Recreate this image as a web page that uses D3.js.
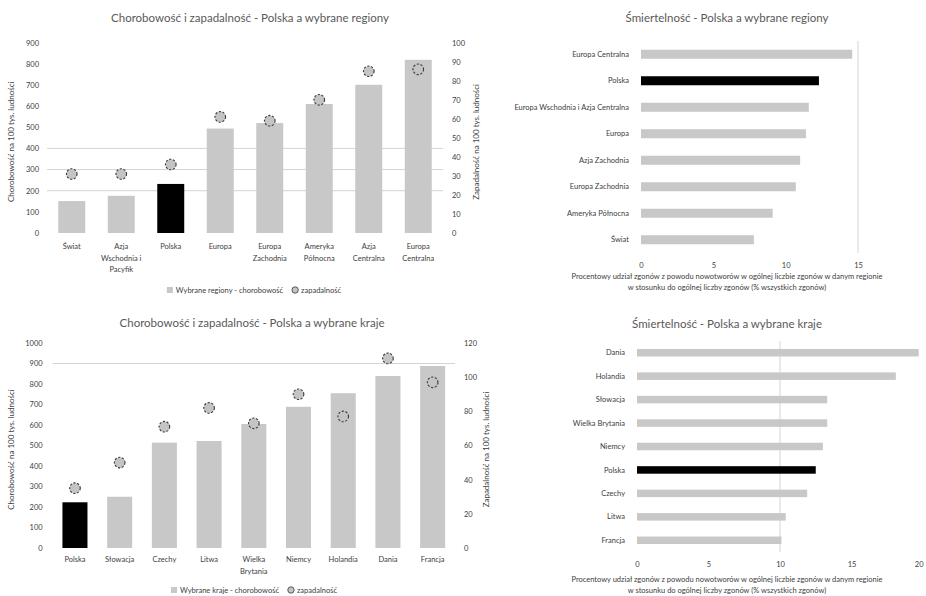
<!DOCTYPE html>
<html lang="pl">
<head>
<meta charset="utf-8">
<script src="https://cdn.jsdelivr.net/npm/d3@7"></script>
<style>
  html, body { margin: 0; padding: 0; background: #fff; }
  svg { display: block; font-family: Lato, "Open Sans", sans-serif; }
</style>
</head>
<body>
<svg id="chart" width="926" height="596"></svg>
<script>
// ---- Regiony: chorobowość (lewa oś) i zapadalność (prawa oś) ----
const regionCats = ["Świat", "Azja\nWschodnia i\nPacyfik", "Polska", "Europa", "Europa\nZachodnia", "Ameryka\nPółnocna", "Azja\nCentralna", "Europa\nCentralna"];
const regionPrevalence = [151, 176, 232, 494, 520, 610, 701, 819];
const regionIncidence = [31, 31, 36, 61, 59, 70, 85, 86];
const regionPrevTicks = [0, 100, 200, 300, 400, 500, 600, 700, 800, 900];
const regionIncTicks = [0, 10, 20, 30, 40, 50, 60, 70, 80, 90, 100];
const regionPrevGrid = [200, 300, 400];

// ---- Regiony: śmiertelność ----
const regionMortCats = ["Europa Centralna", "Polska", "Europa Wschodnia i Azja Centralna", "Europa", "Azja Zachodnia", "Europa Zachodnia", "Ameryka Północna", "Świat"];
const regionMortality = [14.6, 12.3, 11.6, 11.4, 11.0, 10.7, 9.1, 7.8];
const regionMortTicks = [0, 5, 10, 15];
const regionMortGrid = [15];

// ---- Kraje: chorobowość i zapadalność ----
const countryCats = ["Polska", "Słowacja", "Czechy", "Litwa", "Wielka\nBrytania", "Niemcy", "Holandia", "Dania", "Francja"];
const countryPrevalence = [223, 250, 514, 522, 605, 689, 755, 839, 888];
const countryIncidence = [35, 50, 71, 82, 73, 90, 77, 111, 97];
const countryPrevTicks = [0, 100, 200, 300, 400, 500, 600, 700, 800, 900, 1000];
const countryIncTicks = [0, 20, 40, 60, 80, 100, 120];
const countryPrevGrid = [900];

// ---- Kraje: śmiertelność ----
const countryMortCats = ["Dania", "Holandia", "Słowacja", "Wielka Brytania", "Niemcy", "Polska", "Czechy", "Litwa", "Francja"];
const countryMortality = [19.7, 18.1, 13.3, 13.3, 13.0, 12.5, 11.9, 10.4, 10.1];
const countryMortTicks = [0, 5, 10, 15, 20];
const countryMortGrid = [10];

const TEXT = "#404040";
const BAR = "#c8c8c8";
const HIGHLIGHT = "#000000";
const GRID = "#d4d4d4";
const fmt = d3.format("d");
const svg = d3.select("#chart");

function barColor(name) { return name === "Polska" ? HIGHLIGHT : BAR; }

// Column chart with a secondary axis for the circle markers
function comboChart(o) {
  const g = svg.append("g");
  const x = d3.scaleBand().domain(o.cats).range([o.left, o.right])
    .paddingInner(o.pad).paddingOuter(o.pad / 2);
  const yL = d3.scaleLinear().domain([0, d3.max(o.leftTicks)]).range([o.bottom, o.top]);
  const yR = d3.scaleLinear().domain([0, d3.max(o.rightTicks)]).range([o.bottom, o.top]);

  g.append("text").attr("x", o.titleX).attr("y", o.titleY).attr("text-anchor", "middle")
    .attr("font-size", 11.5).attr("fill", "#595959").text(o.title);

  g.selectAll("line.grid").data(o.grid).join("line").attr("class", "grid")
    .attr("x1", o.left).attr("x2", o.right)
    .attr("y1", d => yL(d)).attr("y2", d => yL(d))
    .attr("stroke", GRID).attr("stroke-width", 1);

  const axL = g.append("g").attr("transform", `translate(${o.left},0)`)
    .call(d3.axisLeft(yL).tickValues(o.leftTicks).tickFormat(fmt).tickSize(0).tickPadding(o.leftPad));
  const axR = g.append("g").attr("transform", `translate(${o.right},0)`)
    .call(d3.axisRight(yR).tickValues(o.rightTicks).tickFormat(fmt).tickSize(0).tickPadding(o.rightPad));
  [axL, axR].forEach(a => {
    a.select(".domain").remove();
    a.selectAll("text").attr("font-size", 7.5).attr("fill", TEXT).attr("font-family", "Lato");
  });

  g.selectAll("rect.bar").data(o.cats).join("rect").attr("class", "bar")
    .attr("x", d => x(d)).attr("width", x.bandwidth())
    .attr("y", (d, i) => yL(o.bars[i])).attr("height", (d, i) => yL(0) - yL(o.bars[i]))
    .attr("fill", d => barColor(d));

  g.selectAll("circle.dot").data(o.cats).join("circle").attr("class", "dot")
    .attr("cx", d => x(d) + x.bandwidth() / 2).attr("cy", (d, i) => yR(o.dots[i]))
    .attr("r", 5.3).attr("fill", "#c4c4c4").attr("stroke", "#3a3a3a")
    .attr("stroke-width", 1.1).attr("stroke-dasharray", "2.2,1.6");

  // category labels (may span several lines)
  o.cats.forEach(c => {
    const t = g.append("text").attr("text-anchor", "middle").attr("font-size", 7.5).attr("fill", TEXT);
    c.split("\n").forEach((line, k) => {
      t.append("tspan").attr("x", x(c) + x.bandwidth() / 2).attr("y", o.labelY + k * 11.5).text(line);
    });
  });

  // axis titles
  g.append("text").attr("transform", `translate(${o.ltX},${(o.top + o.bottom) / 2 + 4}) rotate(-90)`)
    .attr("text-anchor", "middle").attr("font-size", 8).attr("fill", TEXT)
    .text("Chorobowość na 100 tys. ludności");
  g.append("text").attr("transform", `translate(${o.rtX},${(o.top + o.bottom) / 2 + 4}) rotate(-90)`)
    .attr("text-anchor", "middle").attr("font-size", 8).attr("fill", TEXT)
    .text("Zapadalność na 100 tys. ludności");

  // legend
  const lg = g.append("g");
  const t1 = lg.append("text").attr("x", 9).attr("y", 0).attr("font-size", 7.5).attr("fill", TEXT).text(o.legend1);
  const w1 = t1.node().getComputedTextLength();
  lg.append("rect").attr("x", 0).attr("y", -6).attr("width", 6).attr("height", 6).attr("fill", BAR);
  const cx2 = 9 + w1 + 12;
  lg.append("circle").attr("cx", cx2).attr("cy", -3).attr("r", 3.2).attr("fill", "#c4c4c4")
    .attr("stroke", "#3a3a3a").attr("stroke-width", 0.8);
  const t2 = lg.append("text").attr("x", cx2 + 6).attr("y", 0).attr("font-size", 7.5).attr("fill", TEXT).text(o.legend2);
  const total = cx2 + 6 + t2.node().getComputedTextLength();
  lg.attr("transform", `translate(${o.legendX - total / 2},${o.legendY})`);
}

// Horizontal bar chart of mortality
function barChart(o) {
  const g = svg.append("g");
  const y = d3.scaleBand().domain(o.cats).range([o.top, o.bottom])
    .paddingInner(o.pad).paddingOuter(o.pad / 2);
  const x = d3.scaleLinear().domain([0, d3.max(o.ticks)]).range([o.left, o.right]);

  g.append("text").attr("x", o.titleX).attr("y", o.titleY).attr("text-anchor", "middle")
    .attr("font-size", 11.5).attr("fill", "#595959").text(o.title);

  g.selectAll("line.grid").data(o.grid).join("line").attr("class", "grid")
    .attr("x1", d => x(d)).attr("x2", d => x(d))
    .attr("y1", o.top).attr("y2", o.bottom)
    .attr("stroke", GRID).attr("stroke-width", 1);

  const ax = g.append("g").attr("transform", `translate(0,${o.bottom})`)
    .call(d3.axisBottom(x).tickValues(o.ticks).tickFormat(fmt).tickSize(0).tickPadding(o.tickPad));
  ax.select(".domain").remove();
  ax.selectAll("text").attr("font-size", 7.5).attr("fill", TEXT).attr("font-family", "Lato");
  // keep the last tick label inside the page edge
  if (o.right > 915) {
    ax.selectAll(".tick").filter(d => d === d3.max(o.ticks)).select("text").attr("text-anchor", "end");
  }

  g.selectAll("rect.bar").data(o.cats).join("rect").attr("class", "bar")
    .attr("x", x(0)).attr("y", d => y(d)).attr("height", y.bandwidth())
    .attr("width", (d, i) => x(o.values[i]) - x(0))
    .attr("fill", d => barColor(d));

  g.selectAll("text.cat").data(o.cats).join("text").attr("class", "cat")
    .attr("x", o.left - 12).attr("y", d => y(d) + y.bandwidth() / 2 + 2.6)
    .attr("text-anchor", "end").attr("font-size", 7.5).attr("fill", TEXT).text(d => d);

  o.xTitle.forEach((line, k) => {
    g.append("text").attr("x", o.titleX).attr("y", o.xTitleY + k * 10.5).attr("text-anchor", "middle")
      .attr("font-size", 7.5).attr("fill", TEXT).text(line);
  });
}

const mortTitle = [
  "Procentowy udział zgonów z powodu nowotworów w ogólnej liczbie zgonów w danym regionie",
  "w stosunku do ogólnej liczby zgonów (% wszystkich zgonów)"
];

comboChart({
  cats: regionCats, bars: regionPrevalence, dots: regionIncidence,
  leftTicks: regionPrevTicks, rightTicks: regionIncTicks, grid: regionPrevGrid,
  left: 47, right: 443, top: 42.7, bottom: 233, pad: 0.455,
  leftPad: 8, rightPad: 9, labelY: 249, ltX: 14, rtX: 479,
  title: "Chorobowość i zapadalność - Polska a wybrane regiony", titleX: 250, titleY: 22,
  legend1: "Wybrane regiony - chorobowość", legend2: "zapadalność", legendX: 254, legendY: 293
});

barChart({
  cats: regionMortCats, values: regionMortality, ticks: regionMortTicks, grid: regionMortGrid,
  left: 641, right: 858, top: 41, bottom: 253, pad: 0.66, tickPad: 10,
  title: "Śmiertelność - Polska a wybrane regiony", titleX: 727, titleY: 22,
  xTitle: mortTitle, xTitleY: 279
});

comboChart({
  cats: countryCats, bars: countryPrevalence, dots: countryIncidence,
  leftTicks: countryPrevTicks, rightTicks: countryIncTicks, grid: countryPrevGrid,
  left: 52.6, right: 455, top: 343, bottom: 548, pad: 0.44,
  leftPad: 10, rightPad: 9, labelY: 562, ltX: 14, rtX: 489,
  title: "Chorobowość i zapadalność - Polska a wybrane kraje", titleX: 252, titleY: 327,
  legend1: "Wybrane kraje - chorobowość", legend2: "zapadalność", legendX: 254, legendY: 593
});

barChart({
  cats: countryMortCats, values: countryMortality, ticks: countryMortTicks, grid: countryMortGrid,
  left: 637, right: 923, top: 341, bottom: 552, pad: 0.68, tickPad: 10,
  title: "Śmiertelność - Polska a wybrane kraje", titleX: 727, titleY: 328,
  xTitle: mortTitle, xTitleY: 582
});
</script>
</body>
</html>
